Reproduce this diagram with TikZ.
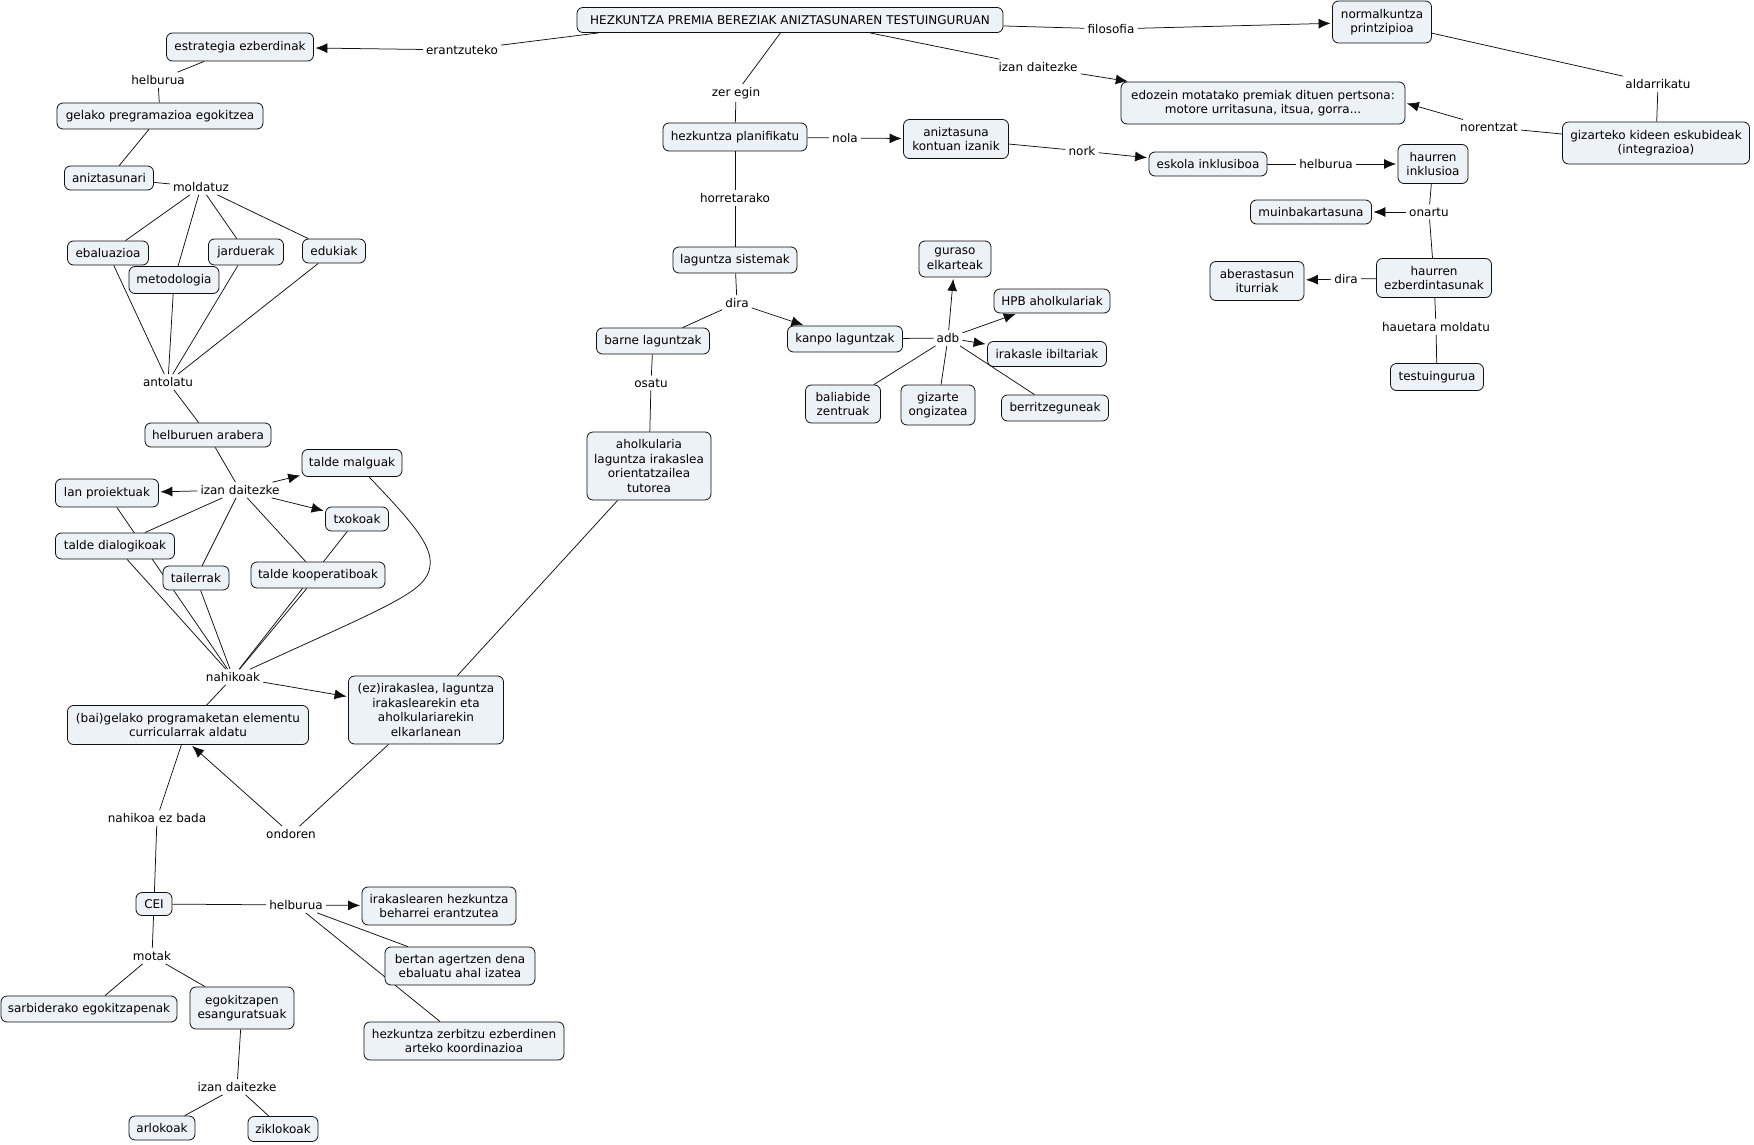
\documentclass[tikz,border=0pt]{standalone}
\usepackage{fontspec}
\setmainfont{DejaVu Sans}
\usetikzlibrary{arrows.meta}
\definecolor{cfill}{RGB}{236,242,245}
\definecolor{cline}{RGB}{15,15,15}
\pgfdeclarelayer{bg}
\pgfsetlayers{bg,main}
\tikzset{
  concept/.style={draw=cline, fill=cfill, rounded corners=6pt, line width=0.8pt,
    align=center, inner sep=2pt, font=\fontsize{12}{14.6}\selectfont, text=black},
  lp/.style={inner sep=3pt, align=center, font=\fontsize{12}{14.6}\selectfont, text=black},
  conn/.style={line width=0.75pt, draw=cline},
  arr/.style={conn, -{Latex[length=12pt,width=10pt]}, shorten >=1.5pt},
}
\newcommand{\cpt}[6]{\node[concept, minimum width=#4pt, minimum height=#5pt] (#1) at (#2,#3) {#6};}
\newcommand{\lph}[4]{\node[lp] (#1) at (#2,#3) {#4};}
\begin{document}
\begin{tikzpicture}[x=1pt,y=-1pt]
\useasboundingbox (0,0) rectangle (1754,1145);
% concepts
\cpt{hez}{790}{20}{426}{25}{HEZKUNTZA PREMIA BEREZIAK ANIZTASUNAREN TESTUINGURUAN}
\cpt{estr}{240}{47}{147}{28}{estrategia ezberdinak}
\cpt{gelpro}{160}{116}{206}{26}{gelako pregramazioa egokitzea}
\cpt{anizt}{109}{178}{89}{24}{aniztasunari}
\cpt{ebal}{108}{253}{81}{24}{ebaluazioa}
\cpt{metod}{174}{280}{90}{27}{metodologia}
\cpt{jard}{246}{252}{75}{26}{jarduerak}
\cpt{eduk}{334}{251}{63}{24}{edukiak}
\cpt{helbar}{208}{435}{126}{24}{helburuen arabera}
\cpt{lanpro}{107}{493}{103}{28}{lan proiektuak}
\cpt{malg}{352}{463}{100}{27}{talde malguak}
\cpt{txok}{357}{519}{63}{24}{txokoak}
\cpt{dialog}{115}{546}{119}{26}{talde dialogikoak}
\cpt{tail}{196}{578}{66}{24}{tailerrak}
\cpt{koop}{318}{575}{134}{26}{talde kooperatiboak}
\cpt{ezir}{426}{710}{155}{68}{(ez)irakaslea, laguntza\\irakaslearekin eta\\aholkulariarekin\\elkarlanean}
\cpt{baigel}{188}{725}{241}{39}{(bai)gelako programaketan elementu\\curricularrak aldatu}
\cpt{cei}{154}{904}{36}{23}{CEI}
\cpt{irak}{439}{906}{154}{38}{irakaslearen hezkuntza\\beharrei erantzutea}
\cpt{bertan}{460}{966}{150}{38}{bertan agertzen dena\\ebaluatu ahal izatea}
\cpt{hzerb}{464}{1041}{200}{38}{hezkuntza zerbitzu ezberdinen\\arteko koordinazioa}
\cpt{sarb}{89}{1009}{176}{26}{sarbiderako egokitzapenak}
\cpt{egok}{242}{1008}{104}{42}{egokitzapen\\esanguratsuak}
\cpt{arlo}{162}{1128}{66}{24}{arlokoak}
\cpt{ziklo}{283}{1129}{70}{25}{ziklokoak}
\cpt{hplan}{735}{137}{144}{28}{hezkuntza planifikatu}
\cpt{aniztk}{956}{139}{105}{39}{aniztasuna\\kontuan izanik}
\cpt{lagsis}{735}{260}{124}{26}{laguntza sistemak}
\cpt{barne}{653}{341}{113}{26}{barne laguntzak}
\cpt{kanpo}{845}{339}{115}{26}{kanpo laguntzak}
\cpt{ahol}{649}{466}{124}{68}{aholkularia\\laguntza irakaslea\\orientatzailea\\tutorea}
\cpt{guraso}{955}{259}{72}{36}{guraso\\elkarteak}
\cpt{hpb}{1052}{301}{116}{24}{HPB aholkulariak}
\cpt{ibilt}{1047}{354}{119}{25}{irakasle ibiltariak}
\cpt{bali}{843}{404}{75}{38}{baliabide\\zentruak}
\cpt{gizon}{938}{405}{74}{40}{gizarte\\ongizatea}
\cpt{berri}{1055}{408}{107}{26}{berritzeguneak}
\cpt{norm}{1382}{22}{99}{42}{normalkuntza\\printzipioa}
\cpt{edoz}{1263}{103}{284}{42}{edozein motatako premiak dituen pertsona:\\motore urritasuna, itsua, gorra...}
\cpt{gizk}{1656}{143}{187}{42}{gizarteko kideen eskubideak\\(integrazioa)}
\cpt{eskola}{1208}{164}{118}{24}{eskola inklusiboa}
\cpt{hinkl}{1433}{164}{70}{39}{haurren\\inklusioa}
\cpt{muin}{1311}{212}{121}{24}{muinbakartasuna}
\cpt{hezb}{1434}{278}{115}{39}{haurren\\ezberdintasunak}
\cpt{aber}{1257}{281}{94}{39}{aberastasun\\iturriak}
\cpt{testu}{1437}{377}{93}{27}{testuingurua}
% linking phrases
\lph{l_erantz}{462}{50}{erantzuteko}
\lph{l_helb1}{158}{80}{helburua}
\lph{l_molda}{201}{187}{moldatuz}
\lph{l_antol}{168}{382}{antolatu}
\lph{l_izan1}{240}{490}{izan daitezke}
\lph{l_nahik}{233}{677}{nahikoak}
\lph{l_nahez}{157}{818}{nahikoa ez bada}
\lph{l_ondor}{291}{834}{ondoren}
\lph{l_helb2}{296}{905}{helburua}
\lph{l_motak}{152}{956}{motak}
\lph{l_izan2}{237}{1087}{izan daitezke}
\lph{l_zeregin}{736}{93}{zer egin}
\lph{l_nola}{845}{138}{nola}
\lph{l_nork}{1082}{151}{nork}
\lph{l_horret}{735}{198}{horretarako}
\lph{l_dira1}{737}{303}{dira}
\lph{l_adb}{948}{338}{adb}
\lph{l_osatu}{651}{383}{osatu}
\lph{l_filo}{1111}{29}{filosofia}
\lph{l_izan3}{1038}{67}{izan daitezke}
\lph{l_aldar}{1658}{84}{aldarrikatu}
\lph{l_noren}{1489}{127}{norentzat}
\lph{l_helb3}{1326}{164}{helburua}
\lph{l_onartu}{1429}{212}{onartu}
\lph{l_dira2}{1346}{279}{dira}
\lph{l_haueta}{1436}{327}{hauetara moldatu}
% connectors
\begin{pgfonlayer}{bg}
\draw[conn] ([xshift=22pt]hez.south west) -- (l_erantz);
\draw[arr] (l_erantz) -- (estr);
\draw[conn] (estr) -- (l_helb1);
\draw[conn] (l_helb1) -- (gelpro);
\draw[conn] (gelpro) -- (anizt);
\draw[conn] (anizt) -- (l_molda);
\foreach \n in {ebal,metod,jard,eduk} {
  \draw[conn] (l_molda) -- (\n);
  \draw[conn] (\n) -- (l_antol);
}
\draw[conn] (l_antol) -- (helbar);
\draw[conn] (helbar) -- (l_izan1);
\draw[arr] (l_izan1) -- (lanpro);
\draw[arr] (l_izan1) -- (malg);
\draw[arr] (l_izan1) -- (txok);
\draw[conn] (l_izan1) -- (dialog);
\draw[conn] (l_izan1) -- (tail);
\draw[conn] (l_izan1) -- (koop);
\foreach \n in {lanpro,dialog,tail,txok,koop} {
  \draw[conn] (\n) -- (l_nahik);
}
\draw[conn] ([xshift=17pt]malg.south) .. controls (410,520) and (433,545) .. (430,566)
  .. controls (427,592) and (390,605) .. (l_nahik);
\draw[arr] (l_nahik) -- (ezir);
\draw[conn] (l_nahik) -- (baigel);
\draw[conn] (baigel) -- (l_nahez);
\draw[conn] (l_nahez) -- (cei);
\draw[conn] (ezir) -- (l_ondor);
\draw[arr] (l_ondor) -- ([xshift=3pt]baigel.south);
\draw[conn] (ezir) -- (ahol);
\draw[conn] (cei) -- (l_helb2);
\draw[arr] (l_helb2) -- (irak);
\draw[conn] (l_helb2) -- (bertan);
\draw[conn] (l_helb2) -- (hzerb);
\draw[conn] (cei) -- (l_motak);
\draw[conn] (l_motak) -- (sarb);
\draw[conn] (l_motak) -- (egok);
\draw[conn] (egok) -- (l_izan2);
\draw[conn] (l_izan2) -- (arlo);
\draw[conn] (l_izan2) -- (ziklo);
\draw[conn] (hez) -- (l_zeregin);
\draw[conn] (l_zeregin) -- (hplan);
\draw[conn] (hplan) -- (l_nola);
\draw[arr] (l_nola) -- (aniztk);
\draw[conn] (aniztk) -- (l_nork);
\draw[arr] (l_nork) -- (eskola);
\draw[conn] (hplan) -- (l_horret);
\draw[conn] (l_horret) -- (lagsis);
\draw[conn] (lagsis) -- (l_dira1);
\draw[conn] (l_dira1) -- (barne);
\draw[arr] (l_dira1) -- (kanpo);
\draw[conn] (kanpo) -- (l_adb);
\draw[arr] (l_adb) -- (guraso);
\draw[arr] (l_adb) -- (hpb);
\draw[arr] (l_adb) -- (ibilt);
\draw[conn] (l_adb) -- (bali);
\draw[conn] (l_adb) -- (gizon);
\draw[conn] (l_adb) -- (berri);
\draw[conn] (barne) -- (l_osatu);
\draw[conn] (l_osatu) -- (ahol);
\draw[conn] (hez) -- (l_filo);
\draw[arr] (l_filo) -- (norm);
\draw[conn] ([xshift=80pt]hez.south) -- (l_izan3);
\draw[arr] (l_izan3) -- (edoz);
\draw[conn] (norm) -- (l_aldar);
\draw[conn] (l_aldar) -- (gizk);
\draw[conn] (gizk) -- (l_noren);
\draw[arr] (l_noren) -- (edoz.east);
\draw[conn] (eskola) -- (l_helb3);
\draw[arr] (l_helb3) -- (hinkl);
\draw[conn] (hinkl) -- (l_onartu);
\draw[arr] (l_onartu) -- (muin);
\draw[conn] (l_onartu) -- (hezb);
\draw[conn] (hezb) -- (l_dira2);
\draw[arr] (l_dira2) -- (aber);
\draw[conn] (hezb) -- (l_haueta);
\draw[conn] (l_haueta) -- (testu);
\end{pgfonlayer}
\end{tikzpicture}
\end{document}
